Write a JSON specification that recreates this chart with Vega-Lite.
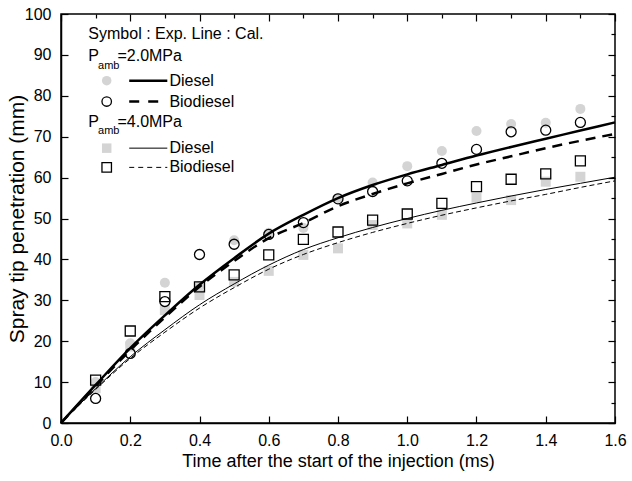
{
  "$schema": "https://vega.github.io/schema/vega-lite/v6.json",
  "width": 554,
  "height": 409,
  "autosize": "none",
  "padding": {"left": 61, "top": 14, "right": 17, "bottom": 58},
  "config": {
    "font": "Liberation Sans",
    "view": {"stroke": "black", "strokeWidth": 1.5},
    "axis": {"grid": false, "domainColor": "black", "domainWidth": 1.5, "tickColor": "black", "tickWidth": 1.2, "labelColor": "black", "labelFontSize": 16, "titleColor": "black", "titleFontWeight": "normal", "labelFont": "Liberation Sans", "titleFont": "Liberation Sans"},
    "text": {"font": "Liberation Sans", "fontSize": 16, "color": "black"}
  },
  "datasets": {
    "exp": [
      {"t": 0.1, "mm": 10.0, "series": "D2"}, {"t": 0.2, "mm": 19.5, "series": "D2"}, {"t": 0.3, "mm": 34.3, "series": "D2"}, {"t": 0.4, "mm": 33.5, "series": "D2"}, {"t": 0.5, "mm": 44.7, "series": "D2"}, {"t": 0.6, "mm": 46.5, "series": "D2"}, {"t": 0.7, "mm": 47.7, "series": "D2"}, {"t": 0.8, "mm": 55.0, "series": "D2"}, {"t": 0.9, "mm": 58.8, "series": "D2"}, {"t": 1.0, "mm": 62.8, "series": "D2"}, {"t": 1.1, "mm": 66.5, "series": "D2"}, {"t": 1.2, "mm": 71.4, "series": "D2"}, {"t": 1.3, "mm": 73.1, "series": "D2"}, {"t": 1.4, "mm": 73.4, "series": "D2"}, {"t": 1.5, "mm": 76.8, "series": "D2"},
      {"t": 0.1, "mm": 8.5, "series": "D4"}, {"t": 0.2, "mm": 18.7, "series": "D4"}, {"t": 0.3, "mm": 27.6, "series": "D4"}, {"t": 0.4, "mm": 31.3, "series": "D4"}, {"t": 0.5, "mm": 34.5, "series": "D4"}, {"t": 0.6, "mm": 37.2, "series": "D4"}, {"t": 0.7, "mm": 41.1, "series": "D4"}, {"t": 0.8, "mm": 42.7, "series": "D4"}, {"t": 0.9, "mm": 48.4, "series": "D4"}, {"t": 1.0, "mm": 48.8, "series": "D4"}, {"t": 1.1, "mm": 50.9, "series": "D4"}, {"t": 1.2, "mm": 55.1, "series": "D4"}, {"t": 1.3, "mm": 54.5, "series": "D4"}, {"t": 1.4, "mm": 59.0, "series": "D4"}, {"t": 1.5, "mm": 60.2, "series": "D4"},
      {"t": 0.1, "mm": 6.0, "series": "B2"}, {"t": 0.2, "mm": 17.0, "series": "B2"}, {"t": 0.3, "mm": 29.7, "series": "B2"}, {"t": 0.4, "mm": 41.2, "series": "B2"}, {"t": 0.5, "mm": 43.7, "series": "B2"}, {"t": 0.6, "mm": 46.1, "series": "B2"}, {"t": 0.7, "mm": 49.0, "series": "B2"}, {"t": 0.8, "mm": 54.8, "series": "B2"}, {"t": 0.9, "mm": 56.6, "series": "B2"}, {"t": 1.0, "mm": 59.2, "series": "B2"}, {"t": 1.1, "mm": 63.5, "series": "B2"}, {"t": 1.2, "mm": 66.9, "series": "B2"}, {"t": 1.3, "mm": 71.2, "series": "B2"}, {"t": 1.4, "mm": 71.6, "series": "B2"}, {"t": 1.5, "mm": 73.5, "series": "B2"},
      {"t": 0.1, "mm": 10.5, "series": "B4"}, {"t": 0.2, "mm": 22.5, "series": "B4"}, {"t": 0.3, "mm": 30.9, "series": "B4"}, {"t": 0.4, "mm": 33.3, "series": "B4"}, {"t": 0.5, "mm": 36.2, "series": "B4"}, {"t": 0.6, "mm": 41.1, "series": "B4"}, {"t": 0.7, "mm": 44.9, "series": "B4"}, {"t": 0.8, "mm": 46.7, "series": "B4"}, {"t": 0.9, "mm": 49.6, "series": "B4"}, {"t": 1.0, "mm": 51.1, "series": "B4"}, {"t": 1.1, "mm": 53.7, "series": "B4"}, {"t": 1.2, "mm": 57.8, "series": "B4"}, {"t": 1.3, "mm": 59.6, "series": "B4"}, {"t": 1.4, "mm": 60.9, "series": "B4"}, {"t": 1.5, "mm": 64.1, "series": "B4"}
    ],
    "cal": [
      {"t": 0.0, "mm": 0.0, "series": "D2"}, {"t": 0.1, "mm": 9.3, "series": "D2"}, {"t": 0.2, "mm": 18.3, "series": "D2"}, {"t": 0.3, "mm": 26.3, "series": "D2"}, {"t": 0.4, "mm": 33.8, "series": "D2"}, {"t": 0.5, "mm": 40.3, "series": "D2"}, {"t": 0.6, "mm": 46.3, "series": "D2"}, {"t": 0.7, "mm": 50.9, "series": "D2"}, {"t": 0.8, "mm": 55.0, "series": "D2"}, {"t": 0.9, "mm": 58.2, "series": "D2"}, {"t": 1.0, "mm": 60.8, "series": "D2"}, {"t": 1.1, "mm": 63.1, "series": "D2"}, {"t": 1.2, "mm": 65.4, "series": "D2"}, {"t": 1.3, "mm": 67.5, "series": "D2"}, {"t": 1.4, "mm": 69.5, "series": "D2"}, {"t": 1.5, "mm": 71.5, "series": "D2"}, {"t": 1.6, "mm": 73.5, "series": "D2"},
      {"t": 0.0, "mm": 0.0, "series": "B2"}, {"t": 0.1, "mm": 9.0, "series": "B2"}, {"t": 0.2, "mm": 17.8, "series": "B2"}, {"t": 0.3, "mm": 25.8, "series": "B2"}, {"t": 0.4, "mm": 33.3, "series": "B2"}, {"t": 0.5, "mm": 39.6, "series": "B2"}, {"t": 0.6, "mm": 45.2, "series": "B2"}, {"t": 0.7, "mm": 48.9, "series": "B2"}, {"t": 0.8, "mm": 53.0, "series": "B2"}, {"t": 0.9, "mm": 56.0, "series": "B2"}, {"t": 1.0, "mm": 58.6, "series": "B2"}, {"t": 1.1, "mm": 60.9, "series": "B2"}, {"t": 1.2, "mm": 63.2, "series": "B2"}, {"t": 1.3, "mm": 65.2, "series": "B2"}, {"t": 1.4, "mm": 67.2, "series": "B2"}, {"t": 1.5, "mm": 69.0, "series": "B2"}, {"t": 1.6, "mm": 70.7, "series": "B2"},
      {"t": 0.0, "mm": 0.0, "series": "D4"}, {"t": 0.1, "mm": 8.4, "series": "D4"}, {"t": 0.2, "mm": 16.2, "series": "D4"}, {"t": 0.3, "mm": 22.8, "series": "D4"}, {"t": 0.4, "mm": 28.9, "series": "D4"}, {"t": 0.5, "mm": 34.0, "series": "D4"}, {"t": 0.6, "mm": 38.6, "series": "D4"}, {"t": 0.7, "mm": 42.4, "series": "D4"}, {"t": 0.8, "mm": 45.3, "series": "D4"}, {"t": 0.9, "mm": 47.8, "series": "D4"}, {"t": 1.0, "mm": 50.0, "series": "D4"}, {"t": 1.1, "mm": 52.0, "series": "D4"}, {"t": 1.2, "mm": 53.8, "series": "D4"}, {"t": 1.3, "mm": 55.5, "series": "D4"}, {"t": 1.4, "mm": 57.1, "series": "D4"}, {"t": 1.5, "mm": 58.6, "series": "D4"}, {"t": 1.6, "mm": 60.1, "series": "D4"},
      {"t": 0.0, "mm": 0.0, "series": "B4"}, {"t": 0.1, "mm": 8.2, "series": "B4"}, {"t": 0.2, "mm": 15.8, "series": "B4"}, {"t": 0.3, "mm": 22.2, "series": "B4"}, {"t": 0.4, "mm": 28.1, "series": "B4"}, {"t": 0.5, "mm": 33.1, "series": "B4"}, {"t": 0.6, "mm": 37.6, "series": "B4"}, {"t": 0.7, "mm": 41.2, "series": "B4"}, {"t": 0.8, "mm": 44.1, "series": "B4"}, {"t": 0.9, "mm": 46.6, "series": "B4"}, {"t": 1.0, "mm": 48.8, "series": "B4"}, {"t": 1.1, "mm": 50.8, "series": "B4"}, {"t": 1.2, "mm": 52.6, "series": "B4"}, {"t": 1.3, "mm": 54.3, "series": "B4"}, {"t": 1.4, "mm": 55.9, "series": "B4"}, {"t": 1.5, "mm": 57.6, "series": "B4"}, {"t": 1.6, "mm": 59.2, "series": "B4"}
    ]
  },
  "resolve": {"axis": {"x": "independent", "y": "independent"}},
  "layer": [
    {
      "data": {"values": [{}]},
      "layer": [
        {
          "data": {"name": "exp"},
          "transform": [{"filter": "datum.series == 'D2' || datum.series == 'D4'"}],
          "mark": {"type": "point", "filled": true, "color": "#d4d4d4", "opacity": 1},
          "encoding": {
            "x": {"field": "t", "type": "quantitative", "scale": {"domain": [0, 1.6], "nice": false, "zero": false},
              "axis": {"orient": "bottom", "title": "Time after the start of the injection (ms)", "titleFontSize": 18, "titlePadding": 4,
                "values": [0, 0.1, 0.2, 0.3, 0.4, 0.5, 0.6, 0.7, 0.8, 0.9, 1.0, 1.1, 1.2, 1.3, 1.4, 1.5, 1.6],
                "labelExpr": "round(datum.value*10)%2==0 ? format(datum.value,'.1f') : ''",
                "tickSize": {"condition": {"test": "round(datum.value*10)%2==0", "value": -7}, "value": -4},
                "labelPadding": 16, "labelFlush": false, "labelOverlap": false}},
            "y": {"field": "mm", "type": "quantitative", "scale": {"domain": [0, 100], "nice": false},
              "axis": {"orient": "left", "title": "Spray tip penetration (mm)", "titleFontSize": 21, "titlePadding": -3,
                "values": [0, 5, 10, 15, 20, 25, 30, 35, 40, 45, 50, 55, 60, 65, 70, 75, 80, 85, 90, 95, 100],
                "labelExpr": "datum.value%10==0 ? datum.value : ''",
                "tickSize": {"condition": {"test": "datum.value%10==0", "value": -7}, "value": -4},
                "labelPadding": 17, "labelFlush": false, "labelOverlap": false}},
            "shape": {"field": "series", "type": "nominal", "scale": {"domain": ["D2", "B2", "D4", "B4"], "range": ["circle", "circle", "square", "square"]}, "legend": null},
            "size": {"value": 100}
          }
        },
        {
          "data": {"name": "cal"},
          "transform": [{"filter": "datum.series == 'D2'"}],
          "mark": {"type": "line", "color": "black", "strokeWidth": 2.5, "interpolate": "monotone"},
          "encoding": {"x": {"field": "t", "type": "quantitative"}, "y": {"field": "mm", "type": "quantitative"}}
        },
        {
          "data": {"name": "cal"},
          "transform": [{"filter": "datum.series == 'B2'"}],
          "mark": {"type": "line", "color": "black", "strokeWidth": 2.5, "strokeDash": [10, 7], "interpolate": "monotone"},
          "encoding": {"x": {"field": "t", "type": "quantitative"}, "y": {"field": "mm", "type": "quantitative"}}
        },
        {
          "data": {"name": "cal"},
          "transform": [{"filter": "datum.series == 'D4'"}],
          "mark": {"type": "line", "color": "black", "strokeWidth": 1, "interpolate": "monotone"},
          "encoding": {"x": {"field": "t", "type": "quantitative"}, "y": {"field": "mm", "type": "quantitative"}}
        },
        {
          "data": {"name": "cal"},
          "transform": [{"filter": "datum.series == 'B4'"}],
          "mark": {"type": "line", "color": "black", "strokeWidth": 1, "strokeDash": [5, 3], "interpolate": "monotone"},
          "encoding": {"x": {"field": "t", "type": "quantitative"}, "y": {"field": "mm", "type": "quantitative"}}
        },
        {
          "data": {"name": "exp"},
          "transform": [{"filter": "datum.series == 'B2' || datum.series == 'B4'"}],
          "mark": {"type": "point", "filled": false, "stroke": "black", "strokeWidth": 1.3, "opacity": 1},
          "encoding": {
            "x": {"field": "t", "type": "quantitative"},
            "y": {"field": "mm", "type": "quantitative"},
            "shape": {"field": "series", "type": "nominal", "legend": null},
            "size": {"value": 100}
          }
        },
        {"mark": {"type": "text", "text": "Symbol : Exp. Line : Cal.", "align": "left", "baseline": "middle", "fontSize": 16}, "encoding": {"x": {"datum": 0.079}, "y": {"datum": 95.0}}},
        {"mark": {"type": "text", "text": "P", "align": "left", "baseline": "middle", "fontSize": 16}, "encoding": {"x": {"datum": 0.079}, "y": {"datum": 89.7}}},
        {"mark": {"type": "text", "text": "amb", "align": "left", "baseline": "middle", "fontSize": 11}, "encoding": {"x": {"datum": 0.107}, "y": {"datum": 87.4}}},
        {"mark": {"type": "text", "text": "=2.0MPa", "align": "left", "baseline": "middle", "fontSize": 16}, "encoding": {"x": {"datum": 0.163}, "y": {"datum": 89.7}}},
        {"mark": {"type": "text", "text": "P", "align": "left", "baseline": "middle", "fontSize": 16}, "encoding": {"x": {"datum": 0.079}, "y": {"datum": 73.7}}},
        {"mark": {"type": "text", "text": "amb", "align": "left", "baseline": "middle", "fontSize": 11}, "encoding": {"x": {"datum": 0.107}, "y": {"datum": 71.4}}},
        {"mark": {"type": "text", "text": "=4.0MPa", "align": "left", "baseline": "middle", "fontSize": 16}, "encoding": {"x": {"datum": 0.163}, "y": {"datum": 73.7}}},
        {"mark": {"type": "point", "shape": "circle", "filled": true, "color": "#d4d4d4", "size": 90, "opacity": 1}, "encoding": {"x": {"datum": 0.132}, "y": {"datum": 83.7}}},
        {"mark": {"type": "point", "shape": "circle", "filled": false, "stroke": "black", "strokeWidth": 1.3, "size": 90, "opacity": 1}, "encoding": {"x": {"datum": 0.132}, "y": {"datum": 78.6}}},
        {"mark": {"type": "point", "shape": "square", "filled": true, "color": "#d4d4d4", "size": 90, "opacity": 1}, "encoding": {"x": {"datum": 0.132}, "y": {"datum": 67.2}}},
        {"mark": {"type": "point", "shape": "square", "filled": false, "stroke": "black", "strokeWidth": 1.3, "size": 90, "opacity": 1}, "encoding": {"x": {"datum": 0.132}, "y": {"datum": 62.5}}},
        {"mark": {"type": "rule", "color": "black", "strokeWidth": 2.5}, "encoding": {"x": {"datum": 0.197}, "x2": {"datum": 0.307}, "y": {"datum": 83.7}}},
        {"mark": {"type": "rule", "color": "black", "strokeWidth": 2.5, "strokeDash": [10, 9]}, "encoding": {"x": {"datum": 0.197}, "x2": {"datum": 0.281}, "y": {"datum": 78.6}}},
        {"mark": {"type": "rule", "color": "black", "strokeWidth": 1}, "encoding": {"x": {"datum": 0.197}, "x2": {"datum": 0.307}, "y": {"datum": 67.2}}},
        {"mark": {"type": "rule", "color": "black", "strokeWidth": 1, "strokeDash": [5, 4]}, "encoding": {"x": {"datum": 0.197}, "x2": {"datum": 0.307}, "y": {"datum": 62.5}}},
        {"mark": {"type": "text", "text": "Diesel", "align": "left", "baseline": "middle", "fontSize": 16}, "encoding": {"x": {"datum": 0.313}, "y": {"datum": 83.7}}},
        {"mark": {"type": "text", "text": "Biodiesel", "align": "left", "baseline": "middle", "fontSize": 16}, "encoding": {"x": {"datum": 0.313}, "y": {"datum": 78.6}}},
        {"mark": {"type": "text", "text": "Diesel", "align": "left", "baseline": "middle", "fontSize": 16}, "encoding": {"x": {"datum": 0.313}, "y": {"datum": 67.2}}},
        {"mark": {"type": "text", "text": "Biodiesel", "align": "left", "baseline": "middle", "fontSize": 16}, "encoding": {"x": {"datum": 0.313}, "y": {"datum": 62.5}}}
      ]
    },
    {
      "data": {"name": "exp"},
      "mark": {"type": "point", "opacity": 0},
      "encoding": {
        "x": {"field": "t", "type": "quantitative", "scale": {"domain": [0, 1.6], "nice": false, "zero": false},
          "axis": {"orient": "top", "title": null, "labels": false, "domain": false,
            "values": [0, 0.1, 0.2, 0.3, 0.4, 0.5, 0.6, 0.7, 0.8, 0.9, 1.0, 1.1, 1.2, 1.3, 1.4, 1.5, 1.6],
            "tickSize": {"condition": {"test": "round(datum.value*10)%2==0", "value": -7}, "value": -4}}},
        "y": {"field": "mm", "type": "quantitative", "scale": {"domain": [0, 100], "nice": false},
          "axis": {"orient": "right", "title": null, "labels": false, "domain": false,
            "values": [0, 5, 10, 15, 20, 25, 30, 35, 40, 45, 50, 55, 60, 65, 70, 75, 80, 85, 90, 95, 100],
            "tickSize": {"condition": {"test": "datum.value%10==0", "value": -7}, "value": -4}}}
      }
    }
  ]
}
